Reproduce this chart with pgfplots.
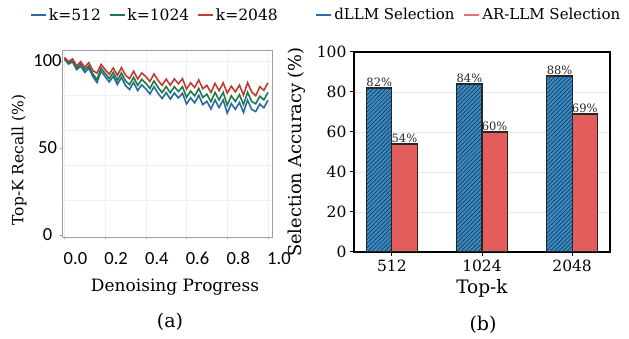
\documentclass[border=0pt]{standalone}
\usepackage{fontspec}
\setmainfont{DejaVu Serif}
\newfontfamily\carlito{Carlito}
\usepackage{pgfplots}
\pgfplotsset{compat=1.18}
\usetikzlibrary{patterns.meta}
\definecolor{lblue}{HTML}{2B6AA0}
\definecolor{lgreen}{HTML}{1F7A4A}
\definecolor{lred}{HTML}{C23B33}
\definecolor{bblue}{HTML}{3A8AC4}
\definecolor{bhatch}{HTML}{1B3A57}
\definecolor{bred}{HTML}{E35D5D}
\definecolor{legblue}{HTML}{2F6FA5}
\definecolor{legred}{HTML}{E8706F}
\newcommand{\fs}[1]{\fontsize{#1}{#1}\selectfont}
\begin{document}
\begin{tikzpicture}[x=1pt,y=1pt]
\path[use as bounding box] (0,0) rectangle (629,339);
% ---------------- left panel ----------------
\begin{axis}[
  at={(62pt,102pt)}, anchor=south west,
  width=210pt, height=187pt, scale only axis,
  xmin=-0.012, xmax=1.02, ymin=-1.2, ymax=106.3,
  xtick={0,0.2,0.4,0.6,0.8,1}, xticklabels={0.0,0.2,0.4,0.6,0.8,1.0},
  ytick={0,50,100}, minor ytick={20,40,60,80,100},
  xmajorgrids, yminorgrids, minor tick length=0pt,
  grid style={gray!12, line width=0.6pt},
  minor grid style={gray!12, line width=0.6pt},
  axis line style={gray!75, line width=0.8pt},
  tick align=outside, xtick pos=bottom, ytick pos=left,
  major tick length=2.5pt, tick style={gray!75},
  /pgf/number format/assume math mode=true,
  ticklabel style={font=\carlito\fs{18.5}},
  xticklabel style={anchor=center, xshift=11pt, yshift=-19pt},
  yticklabel style={anchor=center, xshift=-12pt},
  legend columns=3,
  legend style={at={(0.443,1.187)}, anchor=center, draw=none, fill=none,
    font=\fs{15.5}, inner sep=0pt,
    /tikz/every even column/.append style={column sep=6pt}},
  legend image code/.code={\draw[#1, line width=1.6pt] (0pt,0pt) -- (15pt,0pt);},
]
\addplot[lblue, line width=1.6pt] coordinates {
(0,101) (0.02,98.2) (0.04,99.4) (0.06,95.0) (0.08,97.0) (0.10,93.4) (0.12,95.8) (0.14,91.0) (0.16,87.6) (0.18,94.2)
(0.20,91) (0.22,87.9) (0.24,91.2) (0.26,86.5) (0.28,90.6) (0.30,85.9) (0.32,83.6) (0.34,87.7) (0.36,83.0) (0.38,86.3)
(0.40,84) (0.42,81.0) (0.44,85.2) (0.46,81.4) (0.48,78.4) (0.50,81.8) (0.52,78.1) (0.54,81.6) (0.56,78.7) (0.58,81.4)
(0.60,75.3) (0.62,78.8) (0.64,75.9) (0.66,80.2) (0.68,74.9) (0.70,76.8) (0.72,72.4) (0.74,77.6) (0.76,73.2) (0.78,77.6)
(0.80,70.0) (0.82,75.5) (0.84,72.2) (0.86,76.1) (0.88,70.4) (0.90,77.5) (0.92,72.2) (0.94,70.9) (0.96,75.2) (0.98,73.1) (1.00,77.4)};
\addlegendentry{k=512}
\addplot[lgreen, line width=1.6pt] coordinates {
(0,101.5) (0.02,98.8) (0.04,100.2) (0.06,96.0) (0.08,98.2) (0.10,94.8) (0.12,97.2) (0.14,92.5) (0.16,89.2) (0.18,95.9)
(0.20,92.8) (0.22,89.9) (0.24,93.4) (0.26,88.8) (0.28,93.1) (0.30,88.6) (0.32,86.4) (0.34,90.6) (0.36,86.0) (0.38,89.4)
(0.40,87.2) (0.42,84.2) (0.44,88.5) (0.46,84.8) (0.48,81.8) (0.50,85.3) (0.52,81.7) (0.54,85.2) (0.56,82.4) (0.58,85.2)
(0.60,79.1) (0.62,82.7) (0.64,79.9) (0.66,84.2) (0.68,79.0) (0.70,80.9) (0.72,76.6) (0.74,81.9) (0.76,77.6) (0.78,82.0)
(0.80,74.5) (0.82,80.0) (0.84,76.7) (0.86,80.6) (0.88,74.9) (0.90,82.0) (0.92,76.7) (0.94,75.4) (0.96,79.7) (0.98,77.6) (1.00,81.9)};
\addlegendentry{k=1024}
\addplot[lred, line width=1.6pt] coordinates {
(0,102) (0.02,99.6) (0.04,101.2) (0.06,97.2) (0.08,99.6) (0.10,96.4) (0.12,99.0) (0.14,94.4) (0.16,93.0) (0.18,98.0)
(0.20,95) (0.22,92.3) (0.24,96.0) (0.26,91.7) (0.28,96.2) (0.30,91.9) (0.32,89.8) (0.34,94.1) (0.36,89.6) (0.38,93.1)
(0.40,91) (0.42,88.2) (0.44,92.5) (0.46,88.9) (0.48,86.0) (0.50,89.6) (0.52,86.0) (0.54,89.7) (0.56,86.9) (0.58,89.8)
(0.60,83.8) (0.62,87.4) (0.64,84.7) (0.66,89.1) (0.68,84.0) (0.70,86.0) (0.72,81.8) (0.74,87.1) (0.76,82.9) (0.78,87.4)
(0.80,81.5) (0.82,85.5) (0.84,82.2) (0.86,86.1) (0.88,80.4) (0.90,87.5) (0.92,82.2) (0.94,80.0) (0.96,85.2) (0.98,83.1) (1.00,87.4)};
\addlegendentry{k=2048}
\end{axis}
% ---------------- right panel ----------------
\begin{axis}[
  at={(354pt,87pt)}, anchor=south west,
  width=256pt, height=200pt, scale only axis,
  xmin=-0.42, xmax=2.42, ymin=0, ymax=100,
  xtick={0,1,2}, xticklabels={512,1024,2048},
  ytick={0,20,40,60,80,100},
  ymajorgrids, grid style={gray!18, line width=0.6pt},
  axis line style={black, line width=1.3pt},
  tick align=outside, xtick pos=bottom, ytick pos=left,
  major tick length=4pt, tick style={black, line width=1pt},
  /pgf/number format/assume math mode=true,
  ticklabel style={font=\fs{15.5}},
  ybar, bar width=25.2pt,
  nodes near coords={\pgfmathprintnumber{\pgfplotspointmeta}\%},
  nodes near coords style={font=\fs{11.5}, anchor=south, inner sep=1pt, black!85},
  legend columns=2,
  legend style={at={(0.449,1.185)}, anchor=center, draw=none, fill=none,
    font=\fs{15}, inner sep=0pt,
    /tikz/every even column/.append style={column sep=7pt}},
]
\addplot[bar shift=-12.6pt, fill=bblue, draw=black!85, line width=1.1pt,
  postaction={pattern={Lines[angle=45,distance=3pt,line width=0.7pt]}, pattern color=bhatch},
  legend image code/.code={\draw[legblue, line width=1.6pt] (0pt,0pt) -- (15pt,0pt);}]
  coordinates {(0,82) (1,84) (2,88)};
\addlegendentry{dLLM Selection}
\addplot[bar shift=12.6pt, fill=bred, draw=black!85, line width=1.1pt,
  legend image code/.code={\draw[legred, line width=1.6pt] (0pt,0pt) -- (15pt,0pt);}]
  coordinates {(0,54) (1,60) (2,69)};
\addlegendentry{AR-LLM Selection}
\end{axis}
% ---------------- labels ----------------
\node[font=\fs{17}, inner sep=0pt] at (175,51.5) {Denoising Progress};
\node[font=\fs{19}, inner sep=0pt] at (170,17) {(a)};
\node[font=\fs{15.5}, inner sep=0pt, rotate=90] at (19,179) {Top-K Recall (\%)};
\node[font=\fs{18.5}, inner sep=0pt] at (482,51) {Top-k};
\node[font=\fs{19}, inner sep=0pt] at (483,14) {(b)};
\node[font=\fs{17.8}, inner sep=0pt, rotate=90] at (297,187) {Selection Accuracy (\%)};
\end{tikzpicture}
\end{document}
